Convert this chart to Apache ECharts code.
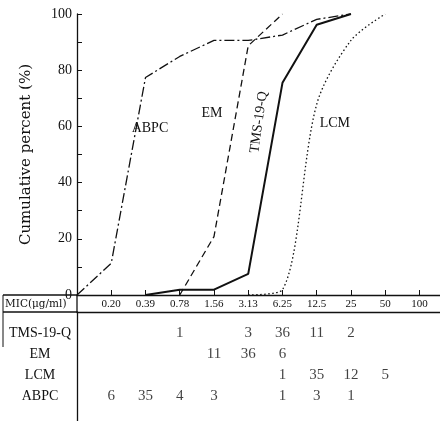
<!DOCTYPE html>
<html>
<head>
<meta charset="utf-8">
<script src="https://cdn.jsdelivr.net/npm/echarts@6/dist/echarts.min.js"></script>
<style>
html, body { margin: 0; padding: 0; background: #fff; }
#chart { width: 440px; height: 421px; }
</style>
</head>
<body>
<div id="chart"></div>
<script>
// MIC steps (ug/ml), table rows
var micLabels = ['0.20', '0.39', '0.78', '1.56', '3.13', '6.25', '12.5', '25', '50', '100'];
var rowNames = ['TMS-19-Q', 'EM', 'LCM', 'ABPC'];

// number of strains at each MIC
var tmsCounts = [null, null, 1, null, 3, 36, 11, 2, null, null];
var emCounts = [null, null, null, 11, 36, 6, null, null, null, null];
var lcmCounts = [null, null, null, null, null, 1, 35, 12, 5, null];
var abpcCounts = [6, 35, 4, 3, null, 1, 3, 1, null, null];

// cumulative percent, index 0 = start point left of 0.20, 1..10 = micLabels
var tmsCum = [null, null, 0, 1.9, 1.9, 7.5, 75.5, 96.2, 100, null, null];
var emCum = [null, null, null, 0, 20.8, 88.7, 100, null, null, null, null];
var lcmCum = [null, null, null, null, null, 0, 1.9, 67.9, 90.6, 100, null];
var abpcCum = [0, 11.3, 77.4, 84.9, 90.6, 90.6, 92.5, 98.1, 100, null, null];

var serif = 'Liberation Serif';

var toPoints = function (cum) {
    var pts = [];
    cum.forEach(function (v, i) {
        if (v !== null) pts.push([i, v]);
    });
    return pts;
};

var tableCells = [];
[tmsCounts, emCounts, lcmCounts, abpcCounts].forEach(function (counts, r) {
    counts.forEach(function (c, i) {
        if (c !== null) tableCells.push([i + 1, r + 1, c]);
    });
});

var nameMark = function (text, coord, rotate) {
    return {
        symbol: 'circle',
        symbolSize: 0,
        data: [{coord: coord}],
        label: {
            show: true,
            position: 'inside',
            formatter: text,
            rotate: rotate || 0,
            color: '#111',
            fontFamily: serif,
            fontSize: 14
        }
    };
};

var curve = function (name, cum, width, type, extra) {
    var s = {
        name: name,
        type: 'line',
        xAxisIndex: 0,
        yAxisIndex: 0,
        data: toPoints(cum),
        symbol: 'none',
        lineStyle: {color: '#111', width: width, type: type},
        silent: true
    };
    for (var k in extra) s[k] = extra[k];
    return s;
};

var box = echarts.init(document.getElementById('chart'));
var option = {
    backgroundColor: '#fff',
    animation: false,
    grid: [
        {left: 77, right: 0, top: 14, bottom: 126, containLabel: false, outerBoundsMode: 'none'},
        {left: 77, right: 0, top: 312, bottom: 0, containLabel: false, outerBoundsMode: 'none'}
    ],
    xAxis: [
        {
            gridIndex: 0,
            type: 'value',
            min: 0,
            max: 10.6,
            interval: 1,
            axisLine: {show: true, lineStyle: {color: '#111', width: 1.3}},
            axisTick: {show: true, inside: true, length: 5, lineStyle: {color: '#111'}},
            splitLine: {show: false},
            axisLabel: {
                margin: 4,
                color: '#111',
                fontFamily: serif,
                fontSize: 11,
                formatter: function (v) {
                    return (v >= 1 && v <= 10 && v % 1 === 0) ? micLabels[v - 1] : '';
                }
            }
        },
        {
            gridIndex: 1,
            type: 'value',
            position: 'top',
            min: 0,
            max: 10.6,
            axisLine: {show: true, lineStyle: {color: '#111', width: 1.3}},
            axisTick: {show: false},
            axisLabel: {show: false},
            splitLine: {show: false}
        }
    ],
    yAxis: [
        {
            gridIndex: 0,
            type: 'value',
            min: 0,
            max: 100,
            interval: 10,
            name: 'Cumulative percent (%)',
            nameLocation: 'middle',
            nameGap: 43,
            nameTextStyle: {color: '#111', fontFamily: 'DejaVu Serif', fontSize: 15},
            axisLine: {show: true, lineStyle: {color: '#111', width: 1.3}},
            axisTick: {show: true, inside: true, length: 5, lineStyle: {color: '#111'}},
            splitLine: {show: false},
            axisLabel: {
                margin: 5,
                color: '#111',
                fontFamily: serif,
                fontSize: 14,
                formatter: function (v) {
                    return v % 20 === 0 ? v : '';
                }
            }
        },
        {
            gridIndex: 1,
            type: 'value',
            inverse: true,
            min: 0,
            max: 5.19,
            interval: 1,
            axisLine: {show: true, lineStyle: {color: '#111', width: 1.3}},
            axisTick: {show: false},
            splitLine: {show: false},
            axisLabel: {
                margin: 37,
                align: 'center',
                color: '#111',
                fontFamily: serif,
                fontSize: 14,
                showMinLabel: false,
                showMaxLabel: false,
                formatter: function (v) {
                    return (v >= 1 && v <= 4 && v % 1 === 0) ? rowNames[v - 1] : '';
                }
            }
        }
    ],
    graphic: [
        {type: 'line', shape: {x1: 3, y1: 295, x2: 77, y2: 295}, style: {stroke: '#111', lineWidth: 1.3}},
        {type: 'line', shape: {x1: 3, y1: 312, x2: 77, y2: 312}, style: {stroke: '#111', lineWidth: 1.3}},
        {type: 'line', shape: {x1: 77, y1: 295, x2: 77, y2: 312}, style: {stroke: '#111', lineWidth: 1.3}},
        {type: 'line', shape: {x1: 3, y1: 295, x2: 3, y2: 347}, style: {stroke: '#111', lineWidth: 1}},
        {
            type: 'text', left: 5, top: 299,
            style: {text: 'MIC(\u03bcg/ml)', fill: '#111', font: '10.5px "DejaVu Serif"'}
        }
    ],
    series: [
        curve('ABPC', abpcCum, 1.3, [10, 3, 2, 3], {markPoint: nameMark('ABPC', [2.13, 59.4])}),
        curve('EM', emCum, 1.3, [7, 4], {markPoint: nameMark('EM', [3.94, 64.7])}),
        curve('TMS-19-Q', tmsCum, 2, 'solid', {markPoint: nameMark('TMS-19-Q', [5.31, 61.5], 82)}),
        curve('LCM', lcmCum, 1.3, [1.5, 2.5], {smooth: 0.3, markPoint: nameMark('LCM', [7.53, 61])}),
        {
            type: 'scatter',
            xAxisIndex: 1,
            yAxisIndex: 1,
            data: tableCells,
            symbolSize: 0,
            silent: true,
            label: {
                show: true,
                position: 'inside',
                color: '#111',
                fontFamily: serif,
                fontSize: 15,
                formatter: function (p) {
                    return p.value[2];
                }
            }
        }
    ]
};
box.setOption(option);
</script>
</body>
</html>
